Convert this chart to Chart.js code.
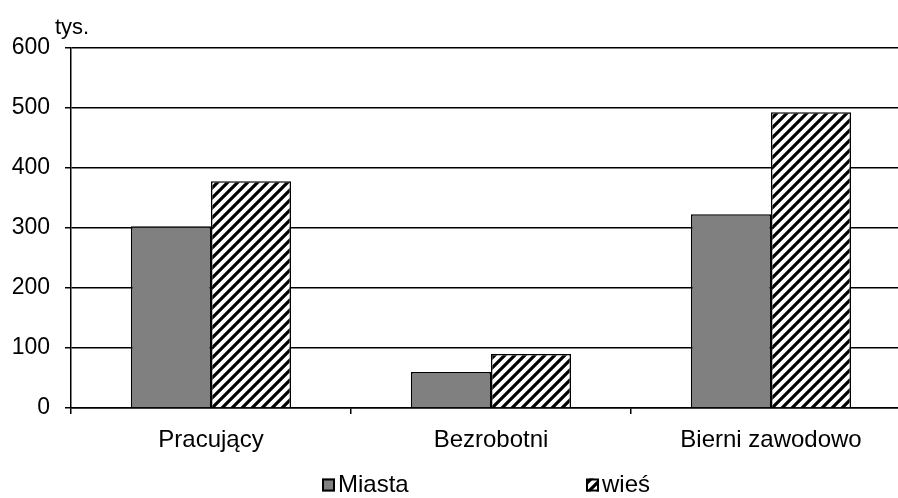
<!DOCTYPE html>
<html>
<head>
<meta charset="utf-8">
<script src="https://cdn.jsdelivr.net/npm/chart.js@4/dist/chart.umd.min.js"></script>
<style>
html,body{margin:0;padding:0;overflow:hidden;background:#fff;width:898px;height:498px;}
canvas{display:block;}
</style>
</head>
<body>
<canvas id="c" width="912" height="498"></canvas>
<script>
const categories = ["Pracujący", "Bezrobotni", "Bierni zawodowo"];
const miasta = [303, 60, 323];
const wies = [378, 90, 493];
const seriesNames = ["Miasta", "wieś"];
const yTicks = [0, 100, 200, 300, 400, 500, 600];
const unitLabel = "tys.";

const FONT = "Liberation Sans, Arial, sans-serif";

function makeStripes() {
  const t = document.createElement('canvas');
  t.width = 10; t.height = 10;
  const g = t.getContext('2d');
  g.fillStyle = '#fff';
  g.fillRect(0, 0, 10, 10);
  g.strokeStyle = '#000';
  g.lineWidth = 3.2;
  g.beginPath();
  g.moveTo(-5, 5); g.lineTo(5, -5);
  g.moveTo(0, 10); g.lineTo(10, 0);
  g.moveTo(5, 15); g.lineTo(15, 5);
  g.stroke();
  return document.getElementById('c').getContext('2d').createPattern(t, 'repeat');
}
const stripes = makeStripes();

const extras = {
  id: 'extras',
  afterDraw(chart) {
    const ctx = chart.ctx;
    const a = chart.chartArea;
    ctx.save();
    ctx.fillStyle = '#000';
    ctx.textBaseline = 'middle';
    ctx.textAlign = 'left';
    ctx.font = "22px " + FONT;
    ctx.fillText(unitLabel, a.left - 16, a.top - 20);
    // legend
    ctx.font = "24px " + FONT;
    const cx = 449;
    const items = [
      {x: cx - 127, fill: '#808080', label: seriesNames[0]},
      {x: cx + 137, fill: stripes, label: seriesNames[1]}
    ];
    const ly = 485;
    items.forEach(it => {
      ctx.fillStyle = it.fill;
      ctx.fillRect(it.x, ly - 6.5, 13, 13);
      ctx.strokeStyle = '#000';
      ctx.lineWidth = 2;
      ctx.strokeRect(it.x + 1, ly - 5.5, 11, 11);
      ctx.fillStyle = '#000';
      ctx.fillText(it.label, it.x + 16, ly);
    });
    ctx.restore();
  }
};

new Chart(document.getElementById('c'), {
  type: 'bar',
  data: {
    labels: categories,
    datasets: [
      {label: seriesNames[0], data: miasta, backgroundColor: '#808080', borderColor: '#000', borderWidth: 1.5},
      {label: seriesNames[1], data: wies, backgroundColor: stripes, borderColor: '#000', borderWidth: 1.5}
    ]
  },
  options: {
    responsive: false,
    animation: false,
    devicePixelRatio: 1,
    layout: {padding: {top: 48, right: 1, left: 0, bottom: 0}},
    datasets: {bar: {categoryPercentage: 160/280, barPercentage: 1}},
    plugins: {legend: {display: false}, tooltip: {enabled: false}},
    scales: {
      x: {
        grid: {offset: true, drawOnChartArea: false, color: '#000', lineWidth: 1.5, tickLength: 6},
        border: {display: true, color: '#000', width: 1.5},
        ticks: {color: '#000', font: {family: FONT, size: 24}, padding: 12, maxRotation: 0},
        afterFit(s) { s.height = 90; }
      },
      y: {
        min: 0, max: 600,
        afterBuildTicks(s) { s.ticks = yTicks.map(v => ({value: v})); },
        grid: {color: '#000', lineWidth: 1.5, tickLength: 6},
        border: {display: true, color: '#000', width: 1.5},
        ticks: {color: '#000', font: {family: FONT, size: 23}, padding: 15},
        afterFit(s) { s.width = 71; }
      }
    }
  },
  plugins: [extras]
});
</script>
</body>
</html>
